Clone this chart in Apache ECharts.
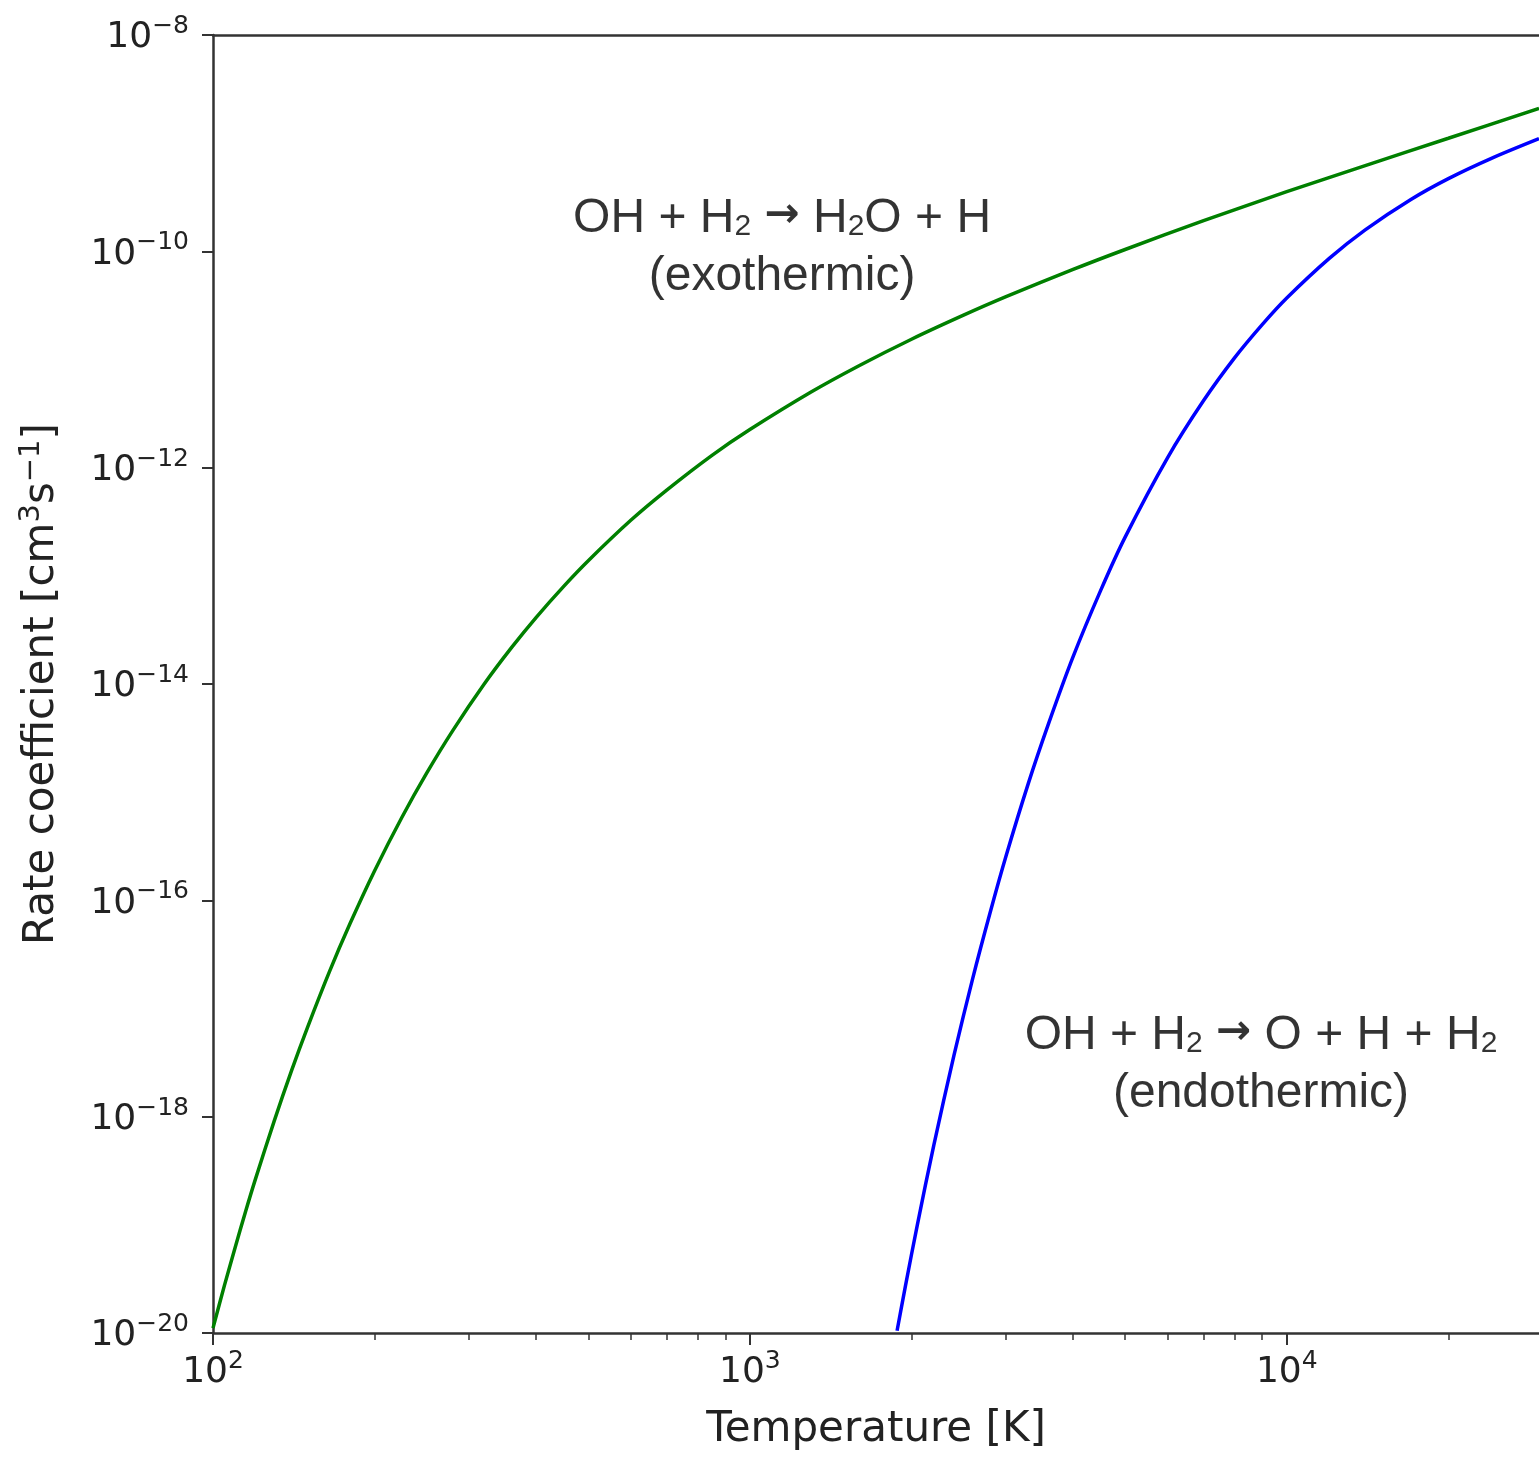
<!DOCTYPE html>
<html>
<head>
<meta charset="utf-8">
<title>OH + H2 rate coefficients</title>
<script src="https://cdn.jsdelivr.net/npm/echarts@6/dist/echarts.min.js"></script>
<style>
  html, body { margin: 0; padding: 0; background: #fff; }
  #chart { width: 1539px; height: 1461px; }
</style>
</head>
<body>
<div id="chart"></div>
<script>
// temperature [K] and rate coefficient [cm^3 s^-1]
const exoTemps = [100, 105, 110, 115, 120, 130, 140, 150, 165, 180, 200, 225, 250, 280, 320, 360, 400, 450, 500, 600, 700, 850,
  1000, 1300, 1600, 2000, 2500, 3000, 4000, 5000, 7000, 10000, 14000, 20000, 29500];
const exoRates = [1.11e-20, 2.74e-20, 6.2e-20, 1.33e-19, 2.66e-19, 9.1e-19, 2.65e-18, 6.7e-18, 2.23e-17, 6.1e-17, 1.88e-16, 5.9e-16, 1.5e-15, 3.75e-15, 1.0e-14, 2.18e-14, 4.14e-14, 8.0e-14, 1.38e-13, 3.26e-13, 6.2e-13, 1.3e-12,
  2.25e-12, 5.0e-12, 8.8e-12, 1.54e-11, 2.57e-11, 3.81e-11, 6.8e-11, 1.04e-10, 1.92e-10, 3.56e-10, 6.2e-10, 1.11e-9, 2.1e-9];

const endoTemps = [1880, 1950, 2050, 2200, 2400, 2600, 2800, 3000, 3300, 3600, 4000, 4500, 5000, 6000, 7000, 8000, 9000,
  10000, 12000, 14000, 17000, 20000, 24000, 29500];
const endoRates = [1.05e-20, 2.77e-20, 9.9e-20, 5.4e-19, 3.7e-18, 1.89e-17, 7.6e-17, 2.57e-16, 1.2e-15, 4.3e-15, 1.79e-14, 7.3e-14, 2.28e-13, 1.24e-12, 4.17e-12, 1.04e-11, 2.1e-11,
  3.7e-11, 8.6e-11, 1.58e-10, 3.0e-10, 4.7e-10, 7.2e-10, 1.1e-9];

// annotation anchors (centre of each text block) and their texts
const annoTemps = [1148, 8954];
const annoRates = [1.07e-10, 3.0e-18];
const annoTexts = [
  'OH + H{sub|2} {arr|→} H{sub|2}O + H\n(exothermic)',
  'OH + H{sub|2} {arr|→} O + H + H{sub|2}\n(endothermic)'
];

// axis ranges and tick positions, in decades
const xRange = [2, Math.log10(29500)];
const yRange = [-20, -8];
const xMajor = [2, 3, 4];
const yMajor = [-20, -18, -16, -14, -12, -10, -8];
const xMinor = [];
xMajor.forEach(d => {
  for (let m = 2; m <= 9; m++) {
    const v = d + Math.log10(m);
    if (v <= xRange[1]) xMinor.push(v);
  }
});

const toPairs = (ts, ks) => ts.map((t, i) => [Math.log10(t), Math.log10(ks[i])]);

const FONT = 'DejaVu Sans';
const INK = '#222';
const AXIS = '#333';

const tickRich = {
  b: { fontFamily: FONT, fontSize: 36, lineHeight: 36, color: INK, verticalAlign: 'bottom' },
  s: { fontFamily: FONT, fontSize: 25, lineHeight: 13, height: 13, color: INK, verticalAlign: 'top' }
};

const nameStyle = {
  fontFamily: FONT, fontSize: 42, lineHeight: 50, color: INK,
  rich: {
    s: { fontFamily: FONT, fontSize: 29, lineHeight: 27, color: INK, verticalAlign: 'top' }
  }
};

const chart = echarts.init(document.getElementById('chart'));

const option = {
  animation: false,
  backgroundColor: '#fff',
  grid: { left: 213, right: 0, top: 35, bottom: 128, containLabel: false, outerBoundsMode: 'none' },
  xAxis: [
    {
      type: 'value', position: 'bottom',
      min: xRange[0], max: xRange[1], interval: 1,
      splitLine: { show: false },
      axisLine: { show: true, onZero: false, lineStyle: { color: AXIS, width: 2.5 } },
      axisTick: { show: true, length: 12, customValues: xMajor, lineStyle: { color: AXIS, width: 2 } },
      axisLabel: {
        margin: 16, padding: [6, 0, 0, 0], customValues: xMajor,
        formatter: v => '{b|10}{s|' + Math.round(v) + '}',
        rich: tickRich
      },
      name: 'Temperature [K]', nameLocation: 'middle', nameGap: 72,
      nameTextStyle: nameStyle
    },
    {
      type: 'value', position: 'bottom',
      min: xRange[0], max: xRange[1],
      splitLine: { show: false },
      axisLine: { show: false, onZero: false },
      axisTick: { show: true, length: 7, customValues: xMinor, lineStyle: { color: AXIS, width: 1.5 } },
      axisLabel: { show: false }
    },
    {
      type: 'value', position: 'top',
      min: xRange[0], max: xRange[1],
      splitLine: { show: false },
      axisLine: { show: true, onZero: false, lineStyle: { color: AXIS, width: 2.5 } },
      axisTick: { show: false },
      axisLabel: { show: false }
    }
  ],
  yAxis: {
    type: 'value',
    min: yRange[0], max: yRange[1], interval: 2,
    splitLine: { show: false },
    axisLine: { show: true, onZero: false, lineStyle: { color: AXIS, width: 2.5 } },
    axisTick: { show: true, length: 11, customValues: yMajor, lineStyle: { color: AXIS, width: 2 } },
    axisLabel: {
      margin: 24, padding: [6, 0, 0, 0], customValues: yMajor,
      formatter: v => '{b|10}{s|−' + Math.abs(Math.round(v)) + '}',
      rich: tickRich
    },
    name: 'Rate coefficient [cm{s|3}s{s|−1}]',
    nameLocation: 'middle', nameRotate: 90, nameGap: 146,
    nameTextStyle: nameStyle
  },
  series: [
    {
      name: 'exothermic', type: 'line', xAxisIndex: 0,
      data: toPairs(exoTemps, exoRates),
      symbol: 'none', smooth: 0.3,
      lineStyle: { color: '#008000', width: 3.5 },
      silent: true
    },
    {
      name: 'endothermic', type: 'line', xAxisIndex: 0,
      data: toPairs(endoTemps, endoRates),
      symbol: 'none', smooth: 0.3,
      lineStyle: { color: '#0000ff', width: 3.5 },
      silent: true
    },
    {
      name: 'notes', type: 'scatter', xAxisIndex: 0,
      data: toPairs(annoTemps, annoRates),
      symbolSize: 1,
      itemStyle: { color: 'rgba(0,0,0,0)' },
      silent: true,
      label: {
        show: true, position: 'inside', align: 'center', verticalAlign: 'middle',
        formatter: p => annoTexts[p.dataIndex],
        fontFamily: 'Liberation Sans', fontSize: 48, lineHeight: 58, color: '#000',
        rich: {
          sub: { fontFamily: 'Liberation Sans', fontSize: 30, height: 42, verticalAlign: 'bottom', color: '#000' },
          arr: { fontFamily: 'DejaVu Sans', fontSize: 42, fontWeight: 'bold', height: 52, verticalAlign: 'top', color: '#000' }
        }
      }
    }
  ]
};

chart.setOption(option);
</script>
</body>
</html>
